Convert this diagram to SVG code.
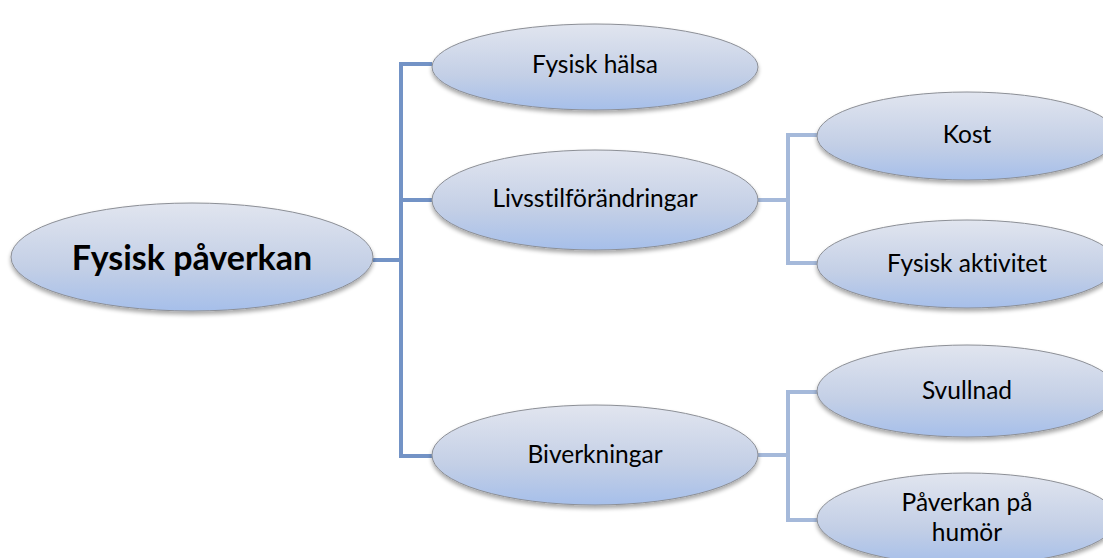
<svg xmlns="http://www.w3.org/2000/svg" width="1103" height="558" viewBox="0 0 1103 558">
<defs>
<linearGradient id="g" x1="0" y1="0" x2="0" y2="1">
<stop offset="0" stop-color="#e1e5ef"/>
<stop offset="0.6" stop-color="#c3cfe6"/>
<stop offset="1" stop-color="#a6bfea"/>
</linearGradient>
<filter id="sh" x="-10%" y="-10%" width="120%" height="130%">
<feGaussianBlur in="SourceAlpha" stdDeviation="2"/>
<feOffset dx="0" dy="3"/>
<feComponentTransfer><feFuncA type="linear" slope="0.35"/></feComponentTransfer>
<feMerge><feMergeNode/><feMergeNode in="SourceGraphic"/></feMerge>
</filter>
</defs>
<style>
.n{fill:url(#g);stroke:#8c8f96;stroke-width:1;filter:url(#sh)}
.t{font-family:Lato,"Liberation Sans",sans-serif;font-size:24.5px;fill:#000;text-anchor:middle;font-variant-ligatures:none}
.tb{font-family:Lato,"Liberation Sans",sans-serif;font-size:34px;font-weight:bold;fill:#000;text-anchor:middle;font-variant-ligatures:none}
.c1{fill:none;stroke:#7393c6;stroke-width:4}
.c2{fill:none;stroke:#a5b9da;stroke-width:4}
</style>
<g id="connectors">
<path class="c1" d="M373,260 H401 M432,64 H401 V456 H432 M401,200 H432"/>
<path class="c2" d="M758,200 H788 M818,135 H788 V263 H818"/>
<path class="c2" d="M758,455 H788 M818,392 H788 V520 H818"/>
</g>
<g id="root">
<ellipse class="n" cx="192" cy="257" rx="181" ry="54"/>
<text class="tb" x="192" y="270">Fysisk påverkan</text>
</g>
<g id="fysisk-halsa">
<ellipse class="n" cx="595" cy="67" rx="163" ry="43"/>
<text class="t" x="595" y="73">Fysisk hälsa</text>
</g>
<g id="livsstil">
<ellipse class="n" cx="595" cy="200" rx="163" ry="50"/>
<text class="t" x="595" y="207">Livsstilförändringar</text>
</g>
<g id="biverkningar">
<ellipse class="n" cx="595" cy="455" rx="163" ry="50"/>
<text class="t" x="595" y="463">Biverkningar</text>
</g>
<g id="kost">
<ellipse class="n" cx="967" cy="136" rx="150" ry="44"/>
<text class="t" x="967" y="143">Kost</text>
</g>
<g id="fysisk-aktivitet">
<ellipse class="n" cx="967" cy="264" rx="150" ry="44"/>
<text class="t" x="967" y="272">Fysisk aktivitet</text>
</g>
<g id="svullnad">
<ellipse class="n" cx="967" cy="391" rx="150" ry="46"/>
<text class="t" x="967" y="399">Svullnad</text>
</g>
<g id="paverkan-humor">
<ellipse class="n" cx="967" cy="519" rx="150" ry="46"/>
<text class="t" x="967" y="511">Påverkan på</text>
<text class="t" x="967" y="541">humör</text>
</g>
</svg>
